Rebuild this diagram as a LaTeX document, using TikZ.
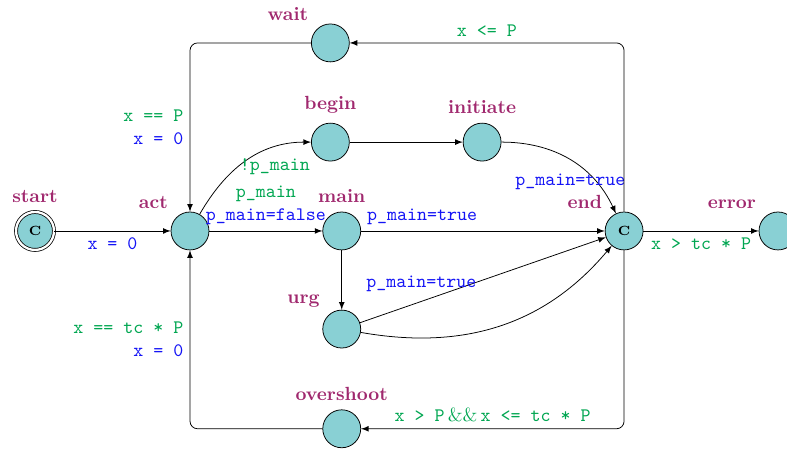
\documentclass[tikz,border=0pt]{standalone}
\usetikzlibrary{arrows}

\definecolor{locfill}{RGB}{137,208,212}
\definecolor{locnamecol}{RGB}{160,40,110}
\definecolor{guardcol}{RGB}{0,166,81}
\definecolor{assigncol}{RGB}{20,20,245}

\begin{document}
\begin{tikzpicture}[
    node distance=2.8cm,
    loc/.style={circle, draw, fill=locfill, minimum size=0.7cm, inner sep=0pt},
    committed/.style={loc, font=\scriptsize\bfseries},
    initial/.style={committed, double, double distance=1.2pt},
    lname/.style={text=locnamecol, font=\bfseries},
    guard/.style={text=guardcol, font=\ttfamily},
    assign/.style={text=assigncol, font=\ttfamily},
    both/.style={font=\ttfamily, align=right},
    arrow/.style={->,>=latex},
    loop/.style={arrow, rounded corners=4pt},
    label distance=1.3pt
]
    \useasboundingbox (-3.506,-4.041) rectangle (11.016,4.262);

    % Locations
    \node [loc, label={[lname]above left:act}] (act) {};
    \node [initial, left of=act, xshift=-0.06cm, label={[lname]above:start}] (start) {C};
    \node [loc, right of=act, label={[lname]above:main}] (main) {};
    \node [committed, right of=main, xshift=2.41cm, label={[lname]above left:end}] (end) {C};
    \node [loc, right of=end, xshift=0.04cm, label={[lname]above left:error}] (error) {};
    \node [loc, above of=main, yshift=-1.16cm, xshift=-0.21cm, label={[lname]above:begin}] (begin) {};
    \node [loc, right of=begin, label={[lname]above:initiate}] (initiate) {};
    \node [loc, above of=begin, yshift=-0.97cm, label={[lname]above left:wait}] (wait) {};
    \node [loc, below of=main, yshift=0.99cm, label={[lname]above left:urg}] (urg) {};
    \node [loc, below of=urg, yshift=0.96cm, label={[lname]above:overshoot}] (overshoot) {};

    % Transitions
    \draw [arrow] (start) -- node[assign, below] {x = 0} (act);
    \draw [arrow] (act) -- node[above, align=center, font=\ttfamily]
        {\textcolor{guardcol}{p\_main}\\\textcolor{assigncol}{p\_main=false}} (main);
    \draw [arrow] (act) to[out=60, in=180] node[guard, pos=0.55, below right, xshift=-0.33cm, yshift=0.11cm] {!p\_main} (begin);
    \draw [arrow] (begin) -- (initiate);
    \draw [arrow] (initiate) to[out=0, in=115] node[assign, pos=0.6, below left, xshift=0.94cm] {p\_main=true} (end);
    \draw [arrow] (main) -- node[assign, pos=0.25, above] {p\_main=true} (end);
    \draw [arrow] (main) -- (urg);
    \draw [arrow] (urg) -- node[assign, pos=0.25, above, yshift=0.05cm] {p\_main=true} (end);
    \draw [arrow] (urg) to[out=-10, in=-130] (end);
    \draw [arrow] (end) -- node[guard, below] {x > tc * P} (error);

    % Outer loops
    \draw [loop] (end) |- node[guard, pos=0.75, above] {x <= P} (wait);
    \draw [loop] (wait) -| node[both, pos=0.75, left]
        {\textcolor{guardcol}{x == P}\\\textcolor{assigncol}{x = 0}} (act);
    \draw [loop] (end) |- node[guard, pos=0.75, above]
        {x > P\,{\rmfamily\&\&}\,x <= tc * P} (overshoot);
    \draw [loop] (overshoot) -| node[both, pos=0.75, left]
        {\textcolor{guardcol}{x == tc * P}\\\textcolor{assigncol}{x = 0}} (act);
\end{tikzpicture}
\end{document}
